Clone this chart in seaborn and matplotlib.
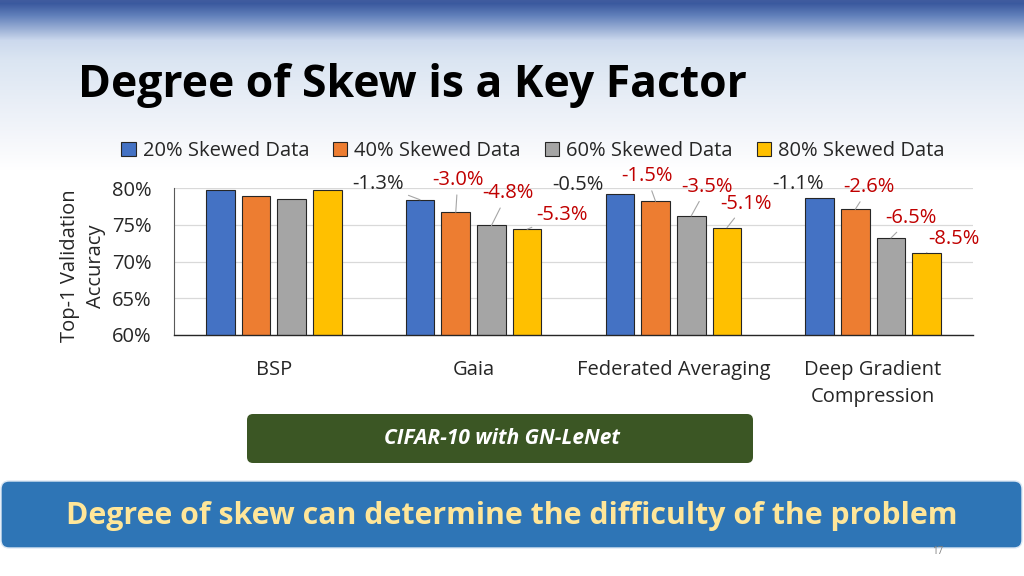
import numpy as np
import pandas as pd
import matplotlib.pyplot as plt
import seaborn as sns
from matplotlib.patches import FancyBboxPatch

# ---------------------------------------------------------
# data (top-1 validation accuracy, %)
# ---------------------------------------------------------
methods = ["BSP", "Gaia", "Federated Averaging", "Deep Gradient\nCompression"]
skews = ["20% Skewed Data", "40% Skewed Data", "60% Skewed Data", "80% Skewed Data"]
acc_20 = [79.7, 78.4, 79.2, 78.6]
acc_40 = [78.9, 76.7, 78.2, 77.1]
acc_60 = [78.5, 74.9, 76.2, 73.2]
acc_80 = [79.7, 74.4, 74.6, 71.2]
drop_gaia = ["-1.3%", "-3.0%", "-4.8%", "-5.3%"]
drop_fedavg = ["-0.5%", "-1.5%", "-3.5%", "-5.1%"]
drop_dgc = ["-1.1%", "-2.6%", "-6.5%", "-8.5%"]
yticks = [60, 65, 70, 75, 80]

colors = ["#4472C4", "#ED7D31", "#A5A5A5", "#FFC000"]

df = pd.DataFrame({
    "method": methods * 4,
    "skew": [s for s in skews for _ in methods],
    "acc": acc_20 + acc_40 + acc_60 + acc_80,
})

sns.set_theme(style="white")
plt.rcParams["font.family"] = ["Open Sans", "DejaVu Sans"]
FS = 14.5

fig = plt.figure(figsize=(10.24, 5.76), dpi=100)

# ---------------------------------------------------------
# slide background (pixel coordinates)
# ---------------------------------------------------------
bg = fig.add_axes([0, 0, 1, 1])
bg.set_xlim(0, 1024)
bg.set_ylim(576, 0)
bg.axis("off")
rows = np.arange(576)
stops_y = [0, 3, 15, 40, 60, 130, 170, 576]
stops_c = np.array([
    [0.25, 0.36, 0.62],
    [0.23, 0.35, 0.62],
    [0.38, 0.50, 0.73],
    [0.80, 0.85, 0.93],
    [0.86, 0.90, 0.95],
    [0.95, 0.96, 0.98],
    [1.0, 1.0, 1.0],
    [1.0, 1.0, 1.0],
])
grad = np.stack([np.interp(rows, stops_y, stops_c[:, k]) for k in range(3)], axis=1)
img = np.repeat(grad[:, None, :], 2, axis=1)
bg.imshow(img, extent=(0, 1024, 576, 0), aspect="auto", zorder=0)

bg.text(78, 86, "Degree of Skew is a Key Factor", fontsize=32, fontweight="bold",
        color="black", ha="left", va="center", zorder=2)

bg.add_patch(FancyBboxPatch((247, 414), 506, 49, boxstyle="round,pad=0,rounding_size=6",
                            facecolor="#3B5624", edgecolor="none", zorder=2))
bg.text(502, 439, "CIFAR-10 with GN-LeNet", fontsize=15, fontweight="bold", fontstyle="italic",
        color="white", ha="center", va="center", zorder=3)

bg.add_patch(FancyBboxPatch((1, 481), 1021, 67, boxstyle="round,pad=0,rounding_size=8",
                            facecolor="#2E75B6", edgecolor="#DDE8F4", linewidth=1, zorder=2))
bg.text(512, 516, "Degree of skew can determine the difficulty of the problem", fontsize=21.8,
        fontweight="bold", color="#FFE699", ha="center", va="center", zorder=3)
bg.text(938, 552, "17", fontsize=7, color="#7F7F7F", ha="center", va="center", zorder=3)

# ---------------------------------------------------------
# bar chart
# ---------------------------------------------------------
ax = fig.add_axes([174 / 1024, 1 - 335 / 576, 799 / 1024, 147 / 576])
ax.patch.set_alpha(0)
sns.barplot(data=df, x="method", y="acc", hue="skew", order=methods, hue_order=skews,
            palette=colors, saturation=1, width=0.715, gap=0.2, edgecolor="#262626",
            linewidth=0.8, ax=ax)
ax.set_ylim(60, 80)
ax.set_yticks(yticks)
ax.set_yticklabels([f"{v}%" for v in yticks])
ax.set_xlabel("")
ax.set_ylabel("")
ax.yaxis.grid(True, color="#D9D9D9", linewidth=0.9)
ax.set_axisbelow(True)
for side in ["top", "right"]:
    ax.spines[side].set_visible(False)
ax.spines["left"].set_color("#595959")
ax.spines["left"].set_linewidth(0.8)
ax.spines["bottom"].set_color("#262626")
ax.spines["bottom"].set_linewidth(1.0)
ax.tick_params(axis="y", length=0, pad=16, labelsize=FS, labelcolor="#262626")
ax.tick_params(axis="x", length=0, pad=18, labelsize=FS, labelcolor="#262626")
for lbl in ax.get_xticklabels():
    lbl.set_linespacing(1.45)
    lbl.set_verticalalignment("top")

handles, labels = ax.get_legend_handles_labels()
ax.legend_.remove()
fig.legend(handles, labels, loc="center", bbox_to_anchor=(533 / 1024, 1 - 151 / 576), ncol=4,
           frameon=False, fontsize=FS, handlelength=0.7, handleheight=0.7,
           handletextpad=0.35, columnspacing=1.2, labelcolor="#262626")

fig.text(83 / 1024, 1 - 266 / 576, "Top-1 Validation\nAccuracy", rotation=90, ha="center",
         va="center", fontsize=FS, color="#262626", multialignment="center",
         linespacing=1.4)

# drop labels: offsets in pixels from bar top, and whether a leader line is drawn
drops = {1: drop_gaia, 2: drop_fedavg, 3: drop_dgc}
offsets = {
    1: [(-42, 16, True), (2, 32, True), (16, 32, True), (35, 14, True)],
    2: [(-42, 9, False), (-9, 25, True), (16, 29, True), (19, 24, True)],
    3: [(-22, 14, False), (14, 22, True), (20, 20, True), (27, 14, True)],
}
for g, texts in drops.items():
    for h, txt in enumerate(texts):
        bar = ax.containers[h][g]
        bx = bar.get_x() + bar.get_width() / 2
        by = bar.get_height()
        dx, dy, line = offsets[g][h]
        ax.annotate(txt, xy=(bx, by), xytext=(dx, dy), textcoords="offset pixels",
                    ha="center", va="center", fontsize=FS,
                    color="#262626" if h == 0 else "#C00000",
                    arrowprops=dict(arrowstyle="-", color="#A6A6A6", lw=0.8,
                                    shrinkA=1, shrinkB=0) if line else None,
                    annotation_clip=False)

fig.savefig("out.png", dpi=100)
